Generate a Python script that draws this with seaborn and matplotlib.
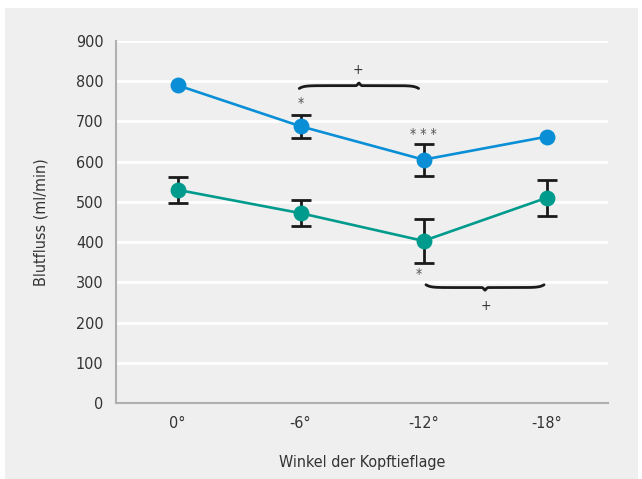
import numpy as np
import pandas as pd
import matplotlib
matplotlib.use('Agg')
import matplotlib.pyplot as plt
from matplotlib.patches import Rectangle
import seaborn as sns

# Data
angles = ['0°', '-6°', '-12°', '-18°']
blue_mean = [790, 688, 605, 662]
blue_err = [np.nan, 28, 40, np.nan]
green_mean = [530, 472, 403, 510]
green_err = [33, 32, 54, 45]

blue_col = '#0a8fd6'
green_col = '#009b8c'
text_col = '#333333'

df = pd.DataFrame({
    'Winkel': angles * 2,
    'Blutfluss': blue_mean + green_mean,
    'Gruppe': ['a'] * 4 + ['b'] * 4,
})

sns.set_style('white')
plt.rcParams['font.family'] = ['DejaVu Sans']
plt.rcParams['font.stretch'] = 'condensed'

fig = plt.figure(figsize=(6.42, 4.79), dpi=100)
fig.patch.set_facecolor('white')
fig.patches.append(Rectangle((5 / 642, 0), 1 - 9 / 642, 1 - 8 / 479,
                             transform=fig.transFigure, facecolor='#efefef',
                             edgecolor='none', zorder=-10))
ax = fig.add_axes([116 / 642, 1 - 403 / 479, 492 / 642, 362 / 479])
ax.set_facecolor('#efefef')

sns.pointplot(data=df, x='Winkel', y='Blutfluss', hue='Gruppe',
              palette=[blue_col, green_col], markers='o', errorbar=None,
              markersize=10, linewidth=1.9, legend=False, ax=ax, zorder=3)

x = np.arange(len(angles))
for mean, err in [(blue_mean, blue_err), (green_mean, green_err)]:
    ax.errorbar(x, mean, yerr=err, fmt='none', ecolor='#1a1a1a',
                elinewidth=2, capsize=7, capthick=2, zorder=2)


def brace(ax, x0, x1, y, h, up=True):
    # curly brace drawn in data coordinates
    t = np.linspace(0, 1, 300)
    half = np.where(t < 0.5, t * 2, (1 - t) * 2)
    tip = np.clip((half - 0.95) / 0.05, 0, 1) ** 1.5
    shape = (1 - np.exp(-half * 14)) * 0.5 + 0.5 * tip
    s = 1 if up else -1
    ax.plot(x0 + (x1 - x0) * t, y + s * h * shape, color='#1a1a1a', lw=2,
            zorder=4, clip_on=False, solid_capstyle='round')


brace(ax, 0.99, 1.96, 782, 14, up=True)
ax.text(1.47, 827, '+', ha='center', va='center', fontsize=10, color=text_col)
brace(ax, 2.02, 2.98, 294, 14, up=False)
ax.text(2.51, 240, '+', ha='center', va='center', fontsize=10, color=text_col)

ax.text(1, 745, '*', ha='center', va='center', fontsize=10, color='#555555')
ax.text(2, 670, '* * *', ha='center', va='center', fontsize=10, color='#555555')
ax.text(1.96, 320, '*', ha='center', va='center', fontsize=10, color='#555555')

ax.set_xlim(-0.5, 3.5)
ax.set_ylim(0, 900)
ax.set_yticks(range(0, 901, 100))
ax.yaxis.grid(True, color='white', lw=2)
ax.set_axisbelow(True)
for side in ['top', 'right']:
    ax.spines[side].set_visible(False)
for side in ['left', 'bottom']:
    ax.spines[side].set_color('#b0b0b0')
    ax.spines[side].set_linewidth(1.5)
ax.tick_params(axis='both', length=0, labelsize=11.5, colors=text_col, pad=9)
ax.set_xlabel('Winkel der Kopftieflage', fontsize=11.5, color=text_col, labelpad=18)
ax.set_ylabel('Blutfluss (ml/min)', fontsize=11.5, color=text_col, labelpad=20)

fig.savefig('out.png', dpi=100)
